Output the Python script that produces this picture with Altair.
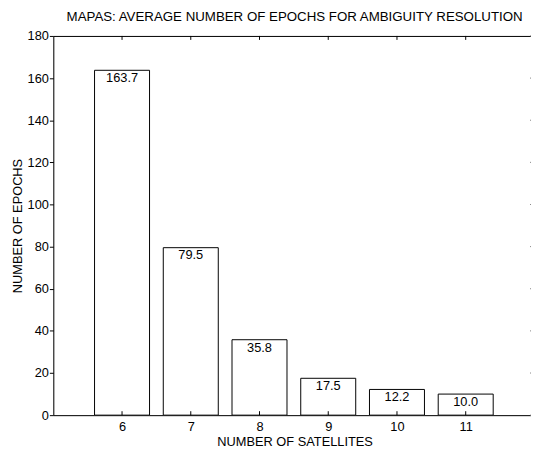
import altair as alt
import pandas as pd

# data
satellites = [6, 7, 8, 9, 10, 11]
epochs = [163.7, 79.5, 35.8, 17.5, 12.2, 10.0]
bar_labels = ["163.7", "79.5", "35.8", "17.5", "12.2", "10.0"]
x_ticks = [6, 7, 8, 9, 10, 11]
y_ticks = [0, 20, 40, 60, 80, 100, 120, 140, 160, 180]

FONT = "Liberation Sans"
W, H = 485, 385

df = pd.DataFrame({"sat": satellites, "epochs": epochs, "label": bar_labels})
ydf = pd.DataFrame({"yt": y_ticks})

xscale = alt.Scale(domain=[5, 11.95], nice=False, zero=False)
yscale = alt.Scale(domain=[0, 180], nice=False)

xaxis = alt.Axis(values=x_ticks, format="d", ticks=False, grid=False,
                 labelFontSize=13, labelFont=FONT, labelColor="black",
                 labelPadding=6, domainColor="black", domainWidth=1,
                 title="NUMBER OF SATELLITES", titleFont=FONT, titleFontSize=13,
                 titleFontWeight="normal", titleColor="black", titlePadding=2,
                 titleX=245, labelFlush=False)
yaxis = alt.Axis(values=y_ticks, grid=False, tickSize=4, tickColor="black",
                 labelFontSize=13, labelFont=FONT, labelColor="black",
                 labelPadding=1, domainColor="black", domainWidth=1,
                 title="NUMBER OF EPOCHS", titleFont=FONT, titleFontSize=13,
                 titleFontWeight="normal", titleColor="black", titlePadding=3,
                 labelFlush=False)

base = alt.Chart(df)

bars = base.transform_calculate(
    x0="datum.sat - 0.4", x1="datum.sat + 0.4"
).mark_rect(fill="white", stroke="black", strokeWidth=1).encode(
    x=alt.X("x0:Q", scale=xscale, axis=xaxis),
    x2="x1:Q",
    y=alt.Y("epochs:Q", scale=yscale, axis=yaxis),
    y2=alt.datum(0),
)

text = base.mark_text(baseline="top", dy=2, fontSize=13, font=FONT, color="black").encode(
    x=alt.X("sat:Q", scale=xscale, axis=None),
    y=alt.Y("epochs:Q", scale=yscale),
    text="label:N",
)

bottom_ticks = base.mark_rule(color="black", strokeWidth=1).encode(
    x=alt.X("sat:Q", scale=xscale, axis=None),
    y=alt.value(H),
    y2=alt.value(H - 4),
)

top_ticks = base.mark_rule(color="black", strokeWidth=1).encode(
    x=alt.X("sat:Q", scale=xscale,
            axis=alt.Axis(orient="top", labels=False, ticks=False, title=None,
                          grid=False, domainColor="black", domainWidth=1)),
    y=alt.value(0),
    y2=alt.value(4),
)

right_ticks = alt.Chart(ydf).mark_rule(color="#888888", strokeWidth=1).encode(
    y=alt.Y("yt:Q", scale=yscale),
    x=alt.value(W - 1),
    x2=alt.value(W),
)

chart = alt.layer(bars, text, bottom_ticks, top_ticks, right_ticks).resolve_axis(
    x="independent"
).properties(
    width=W,
    height=H,
    title=alt.TitleParams(
        "MAPAS: AVERAGE NUMBER OF EPOCHS FOR AMBIGUITY RESOLUTION",
        font=FONT, fontSize=13.5, fontWeight="normal", color="black",
        anchor="middle", offset=7, dx=2.5,
    ),
    autosize=alt.AutoSizeParams(type="none"),
    padding={"left": 46, "top": 25, "right": 0, "bottom": 32},
).configure_view(stroke=None).configure(background="white")

chart.save("out.html", embed_options={"renderer": "svg", "actions": False})
